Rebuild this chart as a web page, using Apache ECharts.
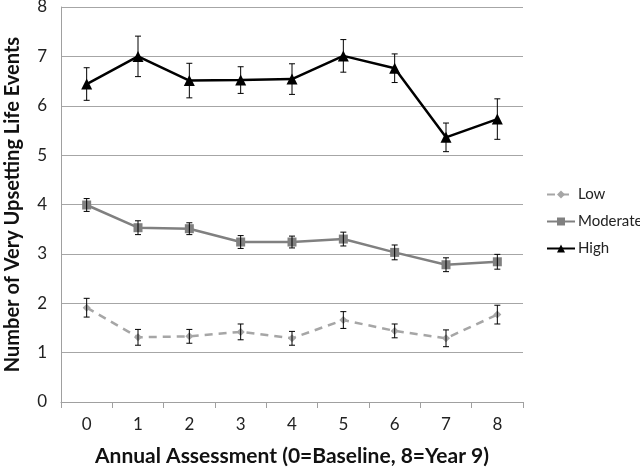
<!DOCTYPE html>
<html><head><meta charset="utf-8">
<script src="https://cdn.jsdelivr.net/npm/echarts@6/dist/echarts.min.js"></script>
<style>html,body{margin:0;padding:0;background:#fff}#c{width:640px;height:469px}</style>
</head><body><div id="c"></div>
<script>
var categories = ['0','1','2','3','4','5','6','7','8'];
var lowMean = [1.91,1.31,1.33,1.42,1.29,1.66,1.44,1.29,1.77];
var lowErr  = [0.19,0.16,0.14,0.16,0.14,0.17,0.14,0.17,0.19];
var modMean = [3.99,3.53,3.51,3.24,3.24,3.30,3.03,2.78,2.84];
var modErr  = [0.13,0.14,0.12,0.13,0.12,0.14,0.15,0.14,0.15];
var highMean = [6.44,7.00,6.51,6.52,6.54,7.01,6.76,5.36,5.73];
var highErr  = [0.33,0.41,0.35,0.27,0.31,0.33,0.29,0.29,0.41];
var yTicks = [0,1,2,3,4,5,6,7,8];

var FONT = 'Lato, "Open Sans", sans-serif';

function errData(mean, err){
  return mean.map(function(m,i){ return [i, m-err[i], m+err[i]]; });
}
function errSeries(name, mean, err){
  return {
    type:'custom', name: name + ' err', z: 5, silent:true,
    data: errData(mean, err),
    renderItem: function(params, api){
      var x = api.value(0);
      var lo = api.coord([x, api.value(1)]);
      var hi = api.coord([x, api.value(2)]);
      var w = 3;
      var st = {stroke:'#000', lineWidth:1};
      return {type:'group', children:[
        {type:'line', shape:{x1:lo[0],y1:lo[1],x2:hi[0],y2:hi[1]}, style:st},
        {type:'line', shape:{x1:lo[0]-w,y1:lo[1],x2:lo[0]+w,y2:lo[1]}, style:st},
        {type:'line', shape:{x1:hi[0]-w,y1:hi[1],x2:hi[0]+w,y2:hi[1]}, style:st}
      ]};
    }
  };
}

var chart = echarts.init(document.getElementById('c'));
chart.setOption({
  animation:false,
  backgroundColor:'#fff',
  grid:{left:61, right:117, top:7, bottom:67, containLabel:false, outerBoundsMode:'none'},
  legend:{
    orient:'vertical', left:541, top:182, itemWidth:28, itemHeight:10, itemGap:12,
    textStyle:{fontFamily:FONT, fontSize:15, color:'#222', padding:[0,0,0,-2]},
    data:['Low','Moderate','High']
  },
  xAxis:{
    type:'category', data:categories, boundaryGap:true,
    name:'Annual Assessment (0=Baseline, 8=Year 9)', nameLocation:'middle', nameGap:44,
    nameTextStyle:{fontFamily:FONT, fontSize:21, fontWeight:'bold', color:'#111'},
    axisLine:{lineStyle:{color:'#a0a0a0', width:1}},
    axisTick:{show:true, alignWithLabel:false, length:6, lineStyle:{color:'#a0a0a0'}},
    axisLabel:{fontFamily:FONT, fontSize:17, color:'#222', margin:14}
  },
  yAxis:{
    type:'value', min:0, max:8, interval:1,
    name:'Number of Very Upsetting Life Events', nameLocation:'middle', nameGap:38,
    nameTextStyle:{fontFamily:FONT, fontSize:20, fontWeight:'bold', color:'#111'},
    axisLine:{show:true, lineStyle:{color:'#a0a0a0'}},
    axisTick:{show:false},
    splitLine:{lineStyle:{color:'#a6a6a6', width:1}},
    axisLabel:{fontFamily:FONT, fontSize:17, color:'#222', margin:14,
      formatter:function(v){ return yTicks.indexOf(v)>=0 ? String(v) : ''; }}
  },
  series:[
    {name:'Low', type:'line', data:lowMean, symbol:'diamond', symbolSize:8,
     itemStyle:{color:'#a6a6a6'}, lineStyle:{color:'#a6a6a6', width:2.5, type:[8,6]}, z:3},
    {name:'Moderate', type:'line', data:modMean, symbol:'rect', symbolSize:9,
     itemStyle:{color:'#808080'}, lineStyle:{color:'#808080', width:2.5}, z:3},
    {name:'High', type:'line', data:highMean, symbol:'triangle', symbolSize:11,
     itemStyle:{color:'#000'}, lineStyle:{color:'#000', width:2.5}, z:3},
    errSeries('Low', lowMean, lowErr),
    errSeries('Moderate', modMean, modErr),
    errSeries('High', highMean, highErr)
  ]
});
</script></body></html>
